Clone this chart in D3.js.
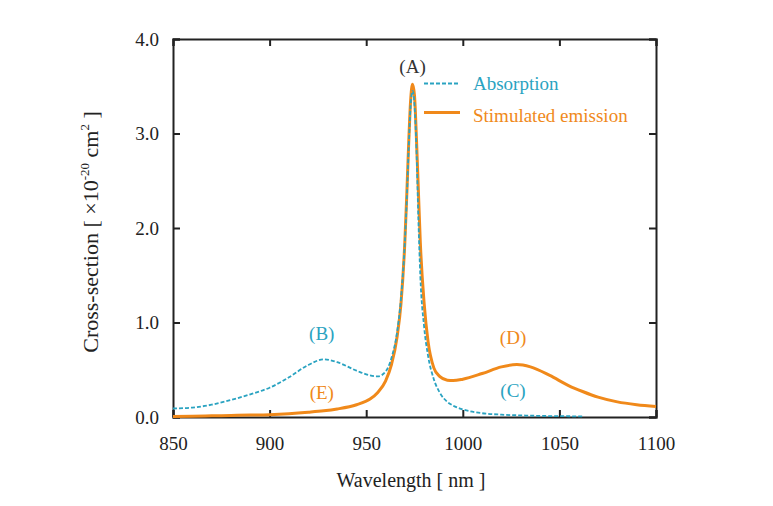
<!DOCTYPE html>
<html><head><meta charset="utf-8">
<script src="https://cdn.jsdelivr.net/npm/d3@7"></script>
<style>body{margin:0;background:#fff}svg{display:block}text{font-family:"Liberation Serif","DejaVu Serif",serif}</style>
</head><body>
<svg id="c" width="773" height="506"></svg>
<script>
const wavelengths = [850,860,870,880,890,900,910,920,928,935,945,952,956,960,963,966,968,970,971,972,973,974,975,976,977,978,980,982,985,988,992,995,1000,1010,1020,1028,1035,1045,1055,1062,1070,1080,1090,1100];
const absorption = [0.09,0.10,0.13,0.18,0.24,0.31,0.42,0.55,0.61,0.58,0.49,0.44,0.43,0.48,0.62,0.90,1.25,1.85,2.3,2.85,3.3,3.45,3.3,2.85,2.1,1.5,0.95,0.65,0.40,0.26,0.16,0.12,0.08,0.04,0.025,0.018,0.014,0.01,0.008,0.006,null,null,null,null];
const emission = [0.005,0.008,0.012,0.016,0.02,0.025,0.035,0.05,0.065,0.085,0.13,0.19,0.26,0.38,0.55,0.85,1.2,1.85,2.35,2.9,3.35,3.52,3.4,2.95,2.4,1.85,1.2,0.8,0.52,0.43,0.39,0.385,0.40,0.46,0.53,0.555,0.53,0.44,0.33,0.27,0.21,0.16,0.13,0.11];
const xTicks = [850,900,950,1000,1050,1100];
const yTicks = [0,1,2,3,4];
const seriesNames = ["Absorption","Stimulated emission"];
const peakLabels = [
  {t:"(A)", x:974, y:3.64, c:"#333333"},
  {t:"(B)", x:927, y:0.82, c:"#2aa3c1"},
  {t:"(E)", x:927, y:0.19, c:"#f0891a"},
  {t:"(D)", x:1026, y:0.77, c:"#f0891a"},
  {t:"(C)", x:1026, y:0.21, c:"#2aa3c1"}
];
const cyan = "#2aa3c1", orange = "#f0891a";

const svg = d3.select("#c");
const L=173, R=656, T=39, B=417;
const x = d3.scaleLinear().domain([850,1100]).range([L,R]);
const y = d3.scaleLinear().domain([0,4]).range([B,T]);

const g = svg.append("g");
const fmt = d3.format(".1f");
const ax = [
  {a:d3.axisBottom(x).tickValues(xTicks).tickSize(-7).tickFormat(d=>d), tr:`translate(0,${B})`},
  {a:d3.axisTop(x).tickValues(xTicks).tickSize(-7).tickFormat(""), tr:`translate(0,${T})`},
  {a:d3.axisLeft(y).tickValues(yTicks).tickSize(-7).tickFormat(fmt), tr:`translate(${L},0)`},
  {a:d3.axisRight(y).tickValues(yTicks).tickSize(-7).tickFormat(""), tr:`translate(${R},0)`}
];
const axG = ax.map(o=>{
  const s = g.append("g").attr("transform",o.tr).call(o.a);
  s.select(".domain").attr("stroke","#222").attr("stroke-width",2);
  s.selectAll(".tick line").attr("stroke","#222").attr("stroke-width",2);
  s.selectAll(".tick text").attr("fill","#222").style("font-size","19px").style("font-family","'Liberation Serif',serif");
  return s;
});
axG[0].selectAll(".tick text").attr("y",0).attr("dy",0).attr("transform","translate(0,33)");
axG[2].selectAll(".tick text").attr("x",-14);

const line = (vals)=>d3.line().defined((d,i)=>vals[i]!==null).x((d,i)=>x(wavelengths[i])).y((d,i)=>y(vals[i])).curve(d3.curveMonotoneX)(wavelengths);

svg.append("path").attr("d",line(emission)).attr("fill","none").attr("stroke",orange).attr("stroke-width",3);
svg.append("path").attr("d",line(absorption)).attr("fill","none").attr("stroke",cyan).attr("stroke-width",1.8).attr("stroke-dasharray","4,2");

const lg = svg.append("g");
lg.append("line").attr("x1",424).attr("x2",458).attr("y1",83.5).attr("y2",83.5).attr("stroke",cyan).attr("stroke-width",1.8).attr("stroke-dasharray","4,2");
lg.append("text").attr("x",473).attr("y",90).attr("fill",cyan).style("font-size","19px").text(seriesNames[0]);
lg.append("line").attr("x1",424).attr("x2",460).attr("y1",112.5).attr("y2",112.5).attr("stroke",orange).attr("stroke-width",3);
lg.append("text").attr("x",473).attr("y",122).attr("fill",orange).style("font-size","19px").text(seriesNames[1]);

svg.selectAll("text.pk").data(peakLabels).join("text").attr("class","pk")
  .attr("x",d=>x(d.x)).attr("y",d=>y(d.y)).attr("text-anchor","middle").attr("fill",d=>d.c)
  .style("font-size","19px").text(d=>d.t);

svg.append("text").attr("x",411).attr("y",487).attr("text-anchor","middle").attr("fill","#222").style("font-size","20px").text("Wavelength [ nm ]");
const yl = svg.append("text").attr("transform","translate(98,232) rotate(-90)").attr("text-anchor","middle").attr("fill","#222").style("font-size","22px");
yl.append("tspan").text("Cross-section [ ×10");
yl.append("tspan").attr("dy",-9).style("font-size","13px").text("-20");
yl.append("tspan").attr("dy",9).text(" cm");
yl.append("tspan").attr("dy",-9).style("font-size","13px").text("2");
yl.append("tspan").attr("dy",9).text(" ]");
</script>
</body></html>
